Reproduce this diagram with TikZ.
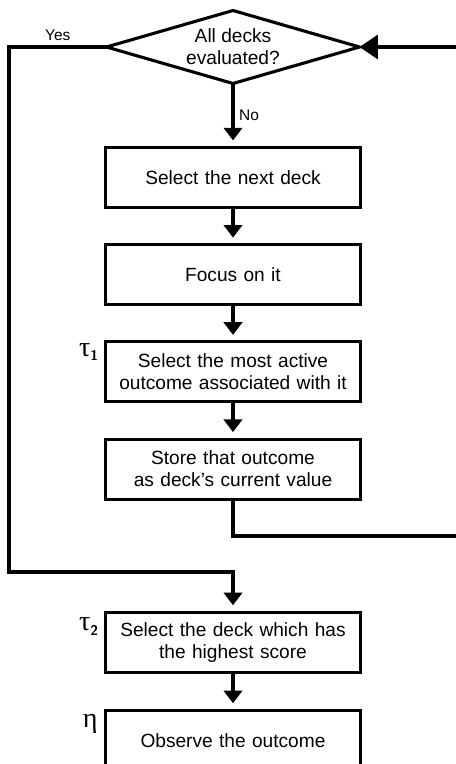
\documentclass[tikz,border=0pt]{standalone}
\usepackage{fontspec}
\setmainfont{Liberation Sans}
\newfontfamily\greekfont{Liberation Serif}
\usetikzlibrary{shapes.geometric, arrows.meta, positioning}
\newcommand{\subidx}[1]{\raisebox{-0.35ex}{\fontsize{10}{10}\selectfont\sffamily\bfseries #1}}
\tikzset{
  stepbox/.style={rectangle, draw=black, fill=white,
    text width=6cm, align=center, minimum width=6.375cm, minimum height=1.5cm,
    inner sep=0pt, outer sep=0pt, font=\fontsize{13.6}{15.6}\selectfont, line width=2.2pt},
  decision/.style={diamond, draw=black, fill=white, aspect=3.5,
    minimum width=6.325cm, minimum height=1.825cm, inner sep=0pt, outer sep=0pt, align=center,
    font=\fontsize{13.6}{15.6}\selectfont, line width=2.2pt},
  arrow/.style={-{Triangle[width=13pt,length=9pt]}, line width=2.2pt, shorten >=5pt},
  bigarrow/.style={-{Triangle[width=17pt,length=13pt]}, line width=2.2pt},
  line/.style={line width=2.2pt},
  greek/.style={font=\greekfont\fontsize{20}{20}\selectfont, inner sep=0pt},
  tag/.style={font=\fontsize{11}{13}\selectfont}
}
\begin{document}
\begin{tikzpicture}[node distance=0.93cm]
  \useasboundingbox (0,0) rectangle (11.4,-19.1);

  % Decision and steps
  \node[decision] (dec) at (5.825,-1.175) {All decks\\evaluated?};
  \node[stepbox, below=1.6cm of dec] (b1) {Select the next deck};
  \node[stepbox, below=of b1] (b2) {Focus on it};
  \node[stepbox, below=of b2] (b3) {Select the most active\\outcome associated with it};
  \node[stepbox, below=of b3] (b4) {Store that outcome\\as deck's current value};
  \node[stepbox, below=2.83cm of b4] (b5) {Select the deck which has\\the highest score};
  \node[stepbox, below=0.95cm of b5] (b6) {Observe the outcome};

  % Parameter labels
  \node[greek] (t1) at ([xshift=-0.42cm,yshift=-0.25cm]b3.north west) {τ\subidx{1}};
  \node[greek] (t2) at ([xshift=-0.42cm,yshift=-0.35cm]b5.north west) {τ\subidx{2}};
  \node[greek] (eta) at ([xshift=-0.38cm,yshift=-0.33cm]b6.north west) {η};

  % Loop corners
  \coordinate (yesL) at (0.225,-1.175);
  \coordinate (yesB) at (0.225,-14.3);
  \coordinate (loopR) at (11.5,-13.4);

  % Main flow
  \draw[arrow] (dec) -- (b1) node[midway, right, tag] {No};
  \draw[arrow] (b1) -- (b2);
  \draw[arrow] (b2) -- (b3);
  \draw[arrow] (b3) -- (b4);
  \draw[arrow] (b5) -- (b6);

  % Exit and loop back
  \draw[arrow] (dec.west) -- node[above, tag] {Yes} (yesL) -- (yesB) -| (b5.north);
  \draw[bigarrow] (b4.south) |- (loopR) |- (dec.east);
\end{tikzpicture}
\end{document}
